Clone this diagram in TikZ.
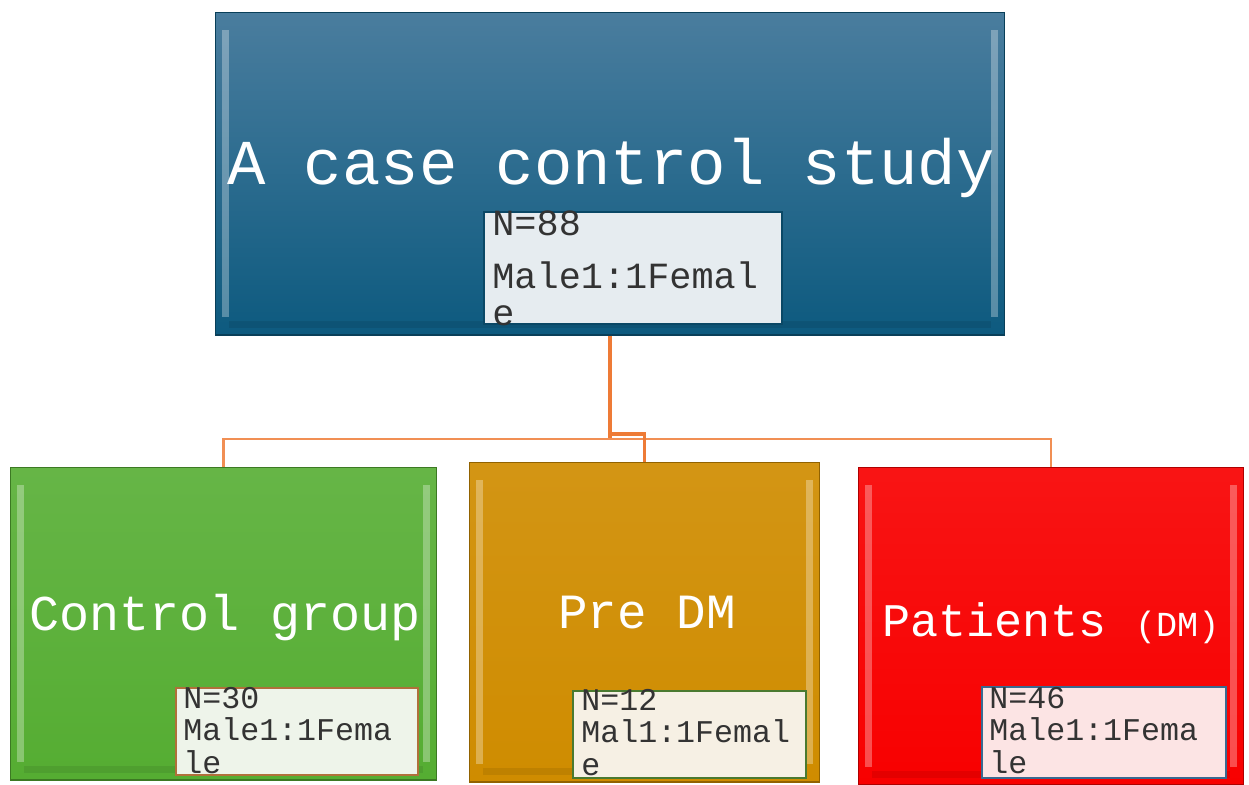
\documentclass[tikz,border=0pt]{standalone}
\usepackage{fontspec}
\setmonofont{Liberation Mono}
\usetikzlibrary{positioning}

\definecolor{topblue}{HTML}{4A7D9E}
\definecolor{botblue}{HTML}{0D5A7F}
\definecolor{ctrlgreen}{HTML}{55AD32}
\definecolor{pregold}{HTML}{CF8C00}
\definecolor{patred}{HTML}{F80000}
\definecolor{linkorange}{HTML}{EE7B36}
\definecolor{txtgray}{HTML}{333333}
\definecolor{studyfill}{HTML}{E6ECF0}
\definecolor{ctrlfill}{HTML}{EEF4EA}
\definecolor{prefill}{HTML}{F6F0E4}
\definecolor{patfill}{HTML}{FCE4E4}
\definecolor{ctrledge}{HTML}{B0703A}
\definecolor{preedge}{HTML}{4A7A30}
\definecolor{patedge}{HTML}{3A6A90}

\tikzset{
  bigbox/.style={rectangle, inner sep=0pt, draw=#1!70!black, line width=0.6pt,
    path picture={
      \fill[white,opacity=.3] ([xshift=4pt,yshift=-10pt]path picture bounding box.north west)
        rectangle ([xshift=8pt,yshift=10pt]path picture bounding box.south west);
      \fill[white,opacity=.3] ([xshift=-4pt,yshift=-10pt]path picture bounding box.north east)
        rectangle ([xshift=-8pt,yshift=10pt]path picture bounding box.south east);
      \fill[black,opacity=.08] ([xshift=8pt,yshift=4pt]path picture bounding box.south west)
        rectangle ([xshift=-8pt,yshift=8pt]path picture bounding box.south east);
    }},
  smallbox/.style={rectangle, inner sep=0pt, line width=1.2pt},
  title/.style={anchor=base, text=white, font=\ttfamily\fontsize{#1}{#1}\selectfont},
  info/.style={anchor=base west, inner sep=0pt, align=left, text=txtgray,
    font=\ttfamily\fontsize{#1}{18.5pt}\selectfont},
  link/.style={draw=linkorange, line width=1.8pt},
  thinlink/.style={draw=linkorange!85, line width=1.3pt}
}

\begin{document}
\begin{tikzpicture}[x=0.02cm, y=-0.02cm]
  \useasboundingbox (0,0) rectangle (1249,785);

  % boxes
  \node[bigbox=botblue, top color=topblue, bottom color=botblue,
        minimum width=15.8cm, minimum height=6.46cm] (study) at (610,173.5) {};
  \node[bigbox=ctrlgreen, top color=ctrlgreen!90!white, bottom color=ctrlgreen,
        minimum width=8.54cm, minimum height=6.26cm] (ctrl) at (223.5,623.5) {};
  \node[bigbox=pregold, top color=pregold!92!white, bottom color=pregold,
        minimum width=7.02cm, minimum height=6.4cm] (pre) at (644.5,622) {};
  \node[bigbox=patred, top color=patred!92!white, bottom color=patred,
        minimum width=7.72cm, minimum height=6.36cm] (pat) at (1051,626) {};

  % inner boxes
  \node[smallbox, draw=botblue!80!black, fill=studyfill, minimum width=5.96cm, minimum height=2.24cm] (studyN) at (633,268) {};
  \node[smallbox, draw=ctrledge, fill=ctrlfill, minimum width=4.84cm, minimum height=1.74cm] (ctrlN) at (297,731.5) {};
  \node[smallbox, draw=preedge, fill=prefill, minimum width=4.66cm, minimum height=1.74cm] (preN) at (689.5,734.5) {};
  \node[smallbox, draw=patedge, fill=patfill, minimum width=4.88cm, minimum height=1.82cm] (patN) at (1104,732.5) {};

  % titles
  \node[title=36.4pt] (studyT) at (611,184) {A case control study};
  \node[title=28.5pt] (ctrlT) at (225,630) {Control group};
  \node[title=28pt] (preT) at (647,628) {Pre DM};
  \node[title=26.6pt] (patT) at (1051,636) {Patients {\fontsize{20pt}{20pt}\selectfont (DM)}};

  % counts (anchored at the last line)
  \node[info=21pt, font=\ttfamily\fontsize{21pt}{21pt}\selectfont] (studyC) at (492,325) {N=88\\[9pt]Male1:1Femal\\e};
  \node[info=18pt] (ctrlC) at (183,773) {N=30\\Male1:1Fema\\le};
  \node[info=18pt] (preC) at (581,775) {N=12\\Mal1:1Femal\\e};
  \node[info=18pt] (patC) at (989,773) {N=46\\Male1:1Fema\\le};

  % connectors
  \coordinate (hub) at (610,439);
  \coordinate (hubpre) at (610,434);
  \draw[link] (study.south) -- (hub);
  \draw[thinlink] (ctrl.north) |- (hub) -| (pat.north);
  \draw[link] (hubpre) -| (pre.north);
\end{tikzpicture}
\end{document}
